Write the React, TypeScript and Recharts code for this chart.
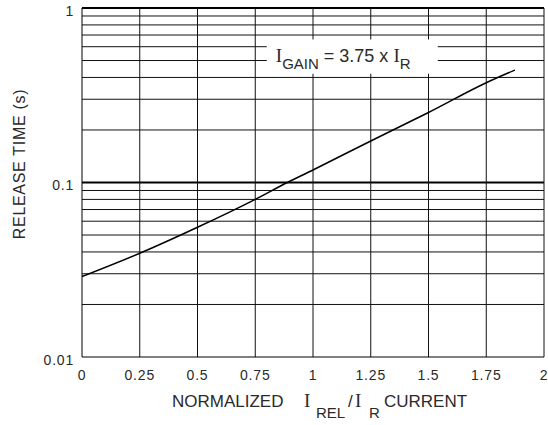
import { LineChart, Line, XAxis, YAxis, ReferenceLine, ReferenceArea } from 'recharts';

// normalized I_REL / I_R
const currentRatio = [0, 0.25, 0.5, 0.75, 0.889, 1, 1.25, 1.5, 1.75, 1.874];
// release time in seconds at each point above
const releaseTime = [0.0289, 0.0393, 0.0554, 0.0801, 0.1, 0.118, 0.173, 0.252, 0.373, 0.441];

const xTicks = [0, 0.25, 0.5, 0.75, 1, 1.25, 1.5, 1.75, 2];
const yTicks = [0.01, 0.1, 1];
const minorY = [0.02, 0.03, 0.04, 0.05, 0.06, 0.07, 0.08, 0.09, 0.2, 0.3, 0.4, 0.5, 0.6, 0.7, 0.8, 0.9];
const majorY = [0.1, 1];
const gridX = [0.25, 0.5, 0.75, 1, 1.25, 1.5, 1.75, 2];

// the white label box breaks the grid lines it covers
const BOX_X: [number, number] = [0.8, 1.54];
const BOX_Y: [number, number] = [0.42, 0.66];

const SANS = '"Liberation Sans", Arial, Helvetica, sans-serif';
const SERIF = '"Liberation Serif", "Times New Roman", serif';
const INK = '#2a2a2a';
const GRID = '#111';

const data = currentRatio.map((x, i) => ({ x, t: releaseTime[i] }));

function GainLabel(props: any) {
  const { x, y } = props.viewBox;
  return (
    <text x={x + 9} y={y + 23} fill={INK} fontFamily={SANS} fontSize={18}>
      <tspan fontFamily={SERIF} fontSize={19}>I</tspan>
      <tspan fontSize={15} dy={7}>GAIN</tspan>
      <tspan dy={-7}> = 3.75 x </tspan>
      <tspan fontFamily={SERIF} fontSize={19}>I</tspan>
      <tspan fontSize={15} dy={7}>R</tspan>
    </text>
  );
}

function XTitle(props: any) {
  const { x, y } = props.viewBox;
  const base = y + 50;
  return (
    <text y={base} fill={INK} fontFamily={SANS} fontSize={17}>
      <tspan x={x + 90}>NORMALIZED</tspan>
      <tspan x={x + 222} fontFamily={SERIF} fontSize={19}>I</tspan>
      <tspan x={x + 234} fontSize={15} dy={11}>REL</tspan>
      <tspan x={x + 266} dy={-11}>/</tspan>
      <tspan x={x + 273} fontFamily={SERIF} fontSize={19}>I</tspan>
      <tspan x={x + 287} fontSize={15} dy={11}>R</tspan>
      <tspan x={x + 302} dy={-11}>CURRENT</tspan>
    </text>
  );
}

function YTitle() {
  return (
    <text
      x={19}
      y={164}
      transform="rotate(-90 19 164)"
      textAnchor="middle"
      dominantBaseline="central"
      fill={INK}
      fontFamily={SANS}
      fontSize={16}
      letterSpacing={0.7}
    >
      RELEASE TIME  (s)
    </text>
  );
}

function hLine(v: number, key: string) {
  if (v > BOX_Y[0] && v < BOX_Y[1]) {
    return [
      <ReferenceLine key={key + 'a'} segment={[{ x: 0, y: v }, { x: BOX_X[0], y: v }]} stroke={GRID} />,
      <ReferenceLine key={key + 'b'} segment={[{ x: BOX_X[1], y: v }, { x: 2, y: v }]} stroke={GRID} />,
    ];
  }
  return [<ReferenceLine key={key} y={v} stroke={GRID} />];
}

function vLine(v: number, key: string) {
  if (v > BOX_X[0] && v < BOX_X[1]) {
    return [
      <ReferenceLine key={key + 'a'} segment={[{ x: v, y: 0.01 }, { x: v, y: BOX_Y[0] }]} stroke={GRID} />,
      <ReferenceLine key={key + 'b'} segment={[{ x: v, y: BOX_Y[1] }, { x: v, y: 1 }]} stroke={GRID} />,
    ];
  }
  return [<ReferenceLine key={key} x={v} stroke={GRID} />];
}

export default function App() {
  return (
    <div style={{ position: 'fixed', left: 0, top: 0, width: 548, height: 425, background: '#fff' }}>
      <LineChart width={548} height={425} data={data} margin={{ top: 8, right: 4, bottom: 0, left: 0 }}>
        <XAxis
          dataKey="x"
          type="number"
          domain={[0, 2]}
          ticks={xTicks}
          height={68}
          axisLine={{ stroke: '#000' }}
          tickLine={false}
          tickMargin={7}
          tick={{ fill: INK, fontSize: 14, fontFamily: SANS, letterSpacing: 0.8 }}
          label={<XTitle />}
        />
        <YAxis
          type="number"
          scale="log"
          domain={[0.01, 1]}
          ticks={yTicks}
          allowDataOverflow
          width={82}
          axisLine={{ stroke: '#000' }}
          tickLine={false}
          tickFormatter={(v: number) => String(v)}
          tick={{ fill: INK, fontSize: 14, fontFamily: SANS, letterSpacing: 0.8, dy: 3 }}
          label={<YTitle />}
        />
        {minorY.flatMap((v) => hLine(v, 'h' + v))}
        {majorY.map((v) => (
          <ReferenceLine key={'m' + v} y={v} stroke="#000" strokeWidth={2} />
        ))}
        {gridX.flatMap((v) => vLine(v, 'v' + v))}
        <ReferenceArea
          x1={BOX_X[0]}
          x2={BOX_X[1]}
          y1={BOX_Y[0]}
          y2={BOX_Y[1]}
          fill="none"
          stroke="none"
          label={<GainLabel />}
        />
        <Line dataKey="t" type="monotone" stroke="#000" strokeWidth={1.5} dot={false} isAnimationActive={false} />
      </LineChart>
    </div>
  );
}
